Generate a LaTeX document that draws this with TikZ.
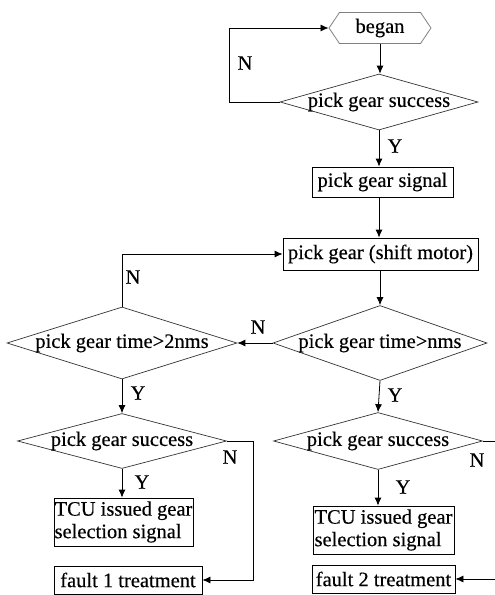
\documentclass[tikz,border=0pt]{standalone}
\usepackage{fontspec}
\setmainfont{Liberation Serif}[FakeBold=0.35]
\usetikzlibrary{shapes.geometric,shapes.symbols,arrows.meta}
\begin{document}
\begin{tikzpicture}[x=1pt,y=-1pt,
  every node/.style={font=\fontsize{20.5}{22.5}\selectfont, inner sep=0pt},
  box/.style={draw, line width=0.8pt},
  dia/.style={draw, diamond, line width=0.7pt, draw=black!80},
  arr/.style={draw, line width=0.8pt, -{Latex[length=8pt,width=7pt]}},
  ln/.style={draw, line width=0.8pt},
  lbl/.style={font=\fontsize{20.5}{22.5}\selectfont}]
\useasboundingbox (0,0) rectangle (495,595);
\node[draw=black!50, line width=0.8pt, signal, signal to=east and west, signal pointer angle=112,
  minimum width=102pt, minimum height=31pt] (began) at (380,28) {began};
\node[dia, minimum width=198pt, minimum height=56pt] (d1) at (379,102) {};
\node (t1) at (d1) {pick gear success};
\node[box, minimum width=141pt, minimum height=30pt] (sig) at (382.5,182) {pick gear signal};
\node[box, minimum width=195pt, minimum height=32pt] (motor) at (380.5,254) {pick gear (shift motor)};
\node[dia, minimum width=214pt, minimum height=75pt] (dR) at (380,343) {};
\node (t2) at (dR) {pick gear time>nms};
\node[dia, minimum width=230pt, minimum height=72pt] (dL) at (122,343) {};
\node (t3) at (dL) {pick gear time>2nms};
\node[dia, minimum width=209pt, minimum height=55pt] (dL2) at (122,441) {};
\node (t4) at (dL2) {pick gear success};
\node[dia, minimum width=209pt, minimum height=57pt] (dR2) at (378,441) {};
\node (t5) at (dR2) {pick gear success};
\node[box, minimum width=139pt, minimum height=48pt, align=left] (tcuL) at (123.5,522) {TCU issued gear\\selection signal};
\node[box, minimum width=141pt, minimum height=48pt, align=left] (tcuR) at (383.5,530) {TCU issued gear\\selection signal};
\node[box, minimum width=148pt, minimum height=28pt] (f1) at (128,580) {fault 1 treatment};
\node[box, minimum width=143pt, minimum height=28pt] (f2) at (383.5,579) {fault 2 treatment};
\coordinate (eR1) at (495,441);
\coordinate (eR2) at (495,579);
% connectors
\draw[arr] (began.south) -- (began.south |- d1.north);
\draw[arr] (d1.west) -- (229,102) |- (began.west);
\draw[arr] (d1.south) -- (d1.south |- sig.north);
\draw[arr] (sig.south -| d1.south) -- (d1.south |- motor.north);
\draw[arr] (motor.south -| dR.north) -- (dR.north);
\draw[arr] (dR.west) -- (dL.east);
\draw[arr] (dL.north) |- (motor.west);
\draw[arr] (dL.south) -- (dL2.north);
\draw[arr] (dR.south) -- (dR2.north);
\draw[arr] (dL2.south) -- (dL2.south |- tcuL.north);
\draw[arr] (dR2.south) -- (dR2.south |- tcuR.north);
\draw[arr] (dL2.east) -- (253,441) |- (f1.east);
\draw[ln] (dR2.east) -- (eR1);
\draw[arr] (eR2) -- (f2.east);
% labels
\node[lbl] (n1) at (245,63) {N};
\node[lbl] (y1) at (395,146) {Y};
\node[lbl] (n2) at (133,277) {N};
\node[lbl] (n3) at (258,327) {N};
\node[lbl] (y2) at (138,393) {Y};
\node[lbl] (y3) at (395,395) {Y};
\node[lbl] (n4) at (230,457) {N};
\node[lbl] (y4) at (142,482) {Y};
\node[lbl] (n5) at (477,460) {N};
\node[lbl] (y5) at (403,487) {Y};
\end{tikzpicture}
\end{document}
